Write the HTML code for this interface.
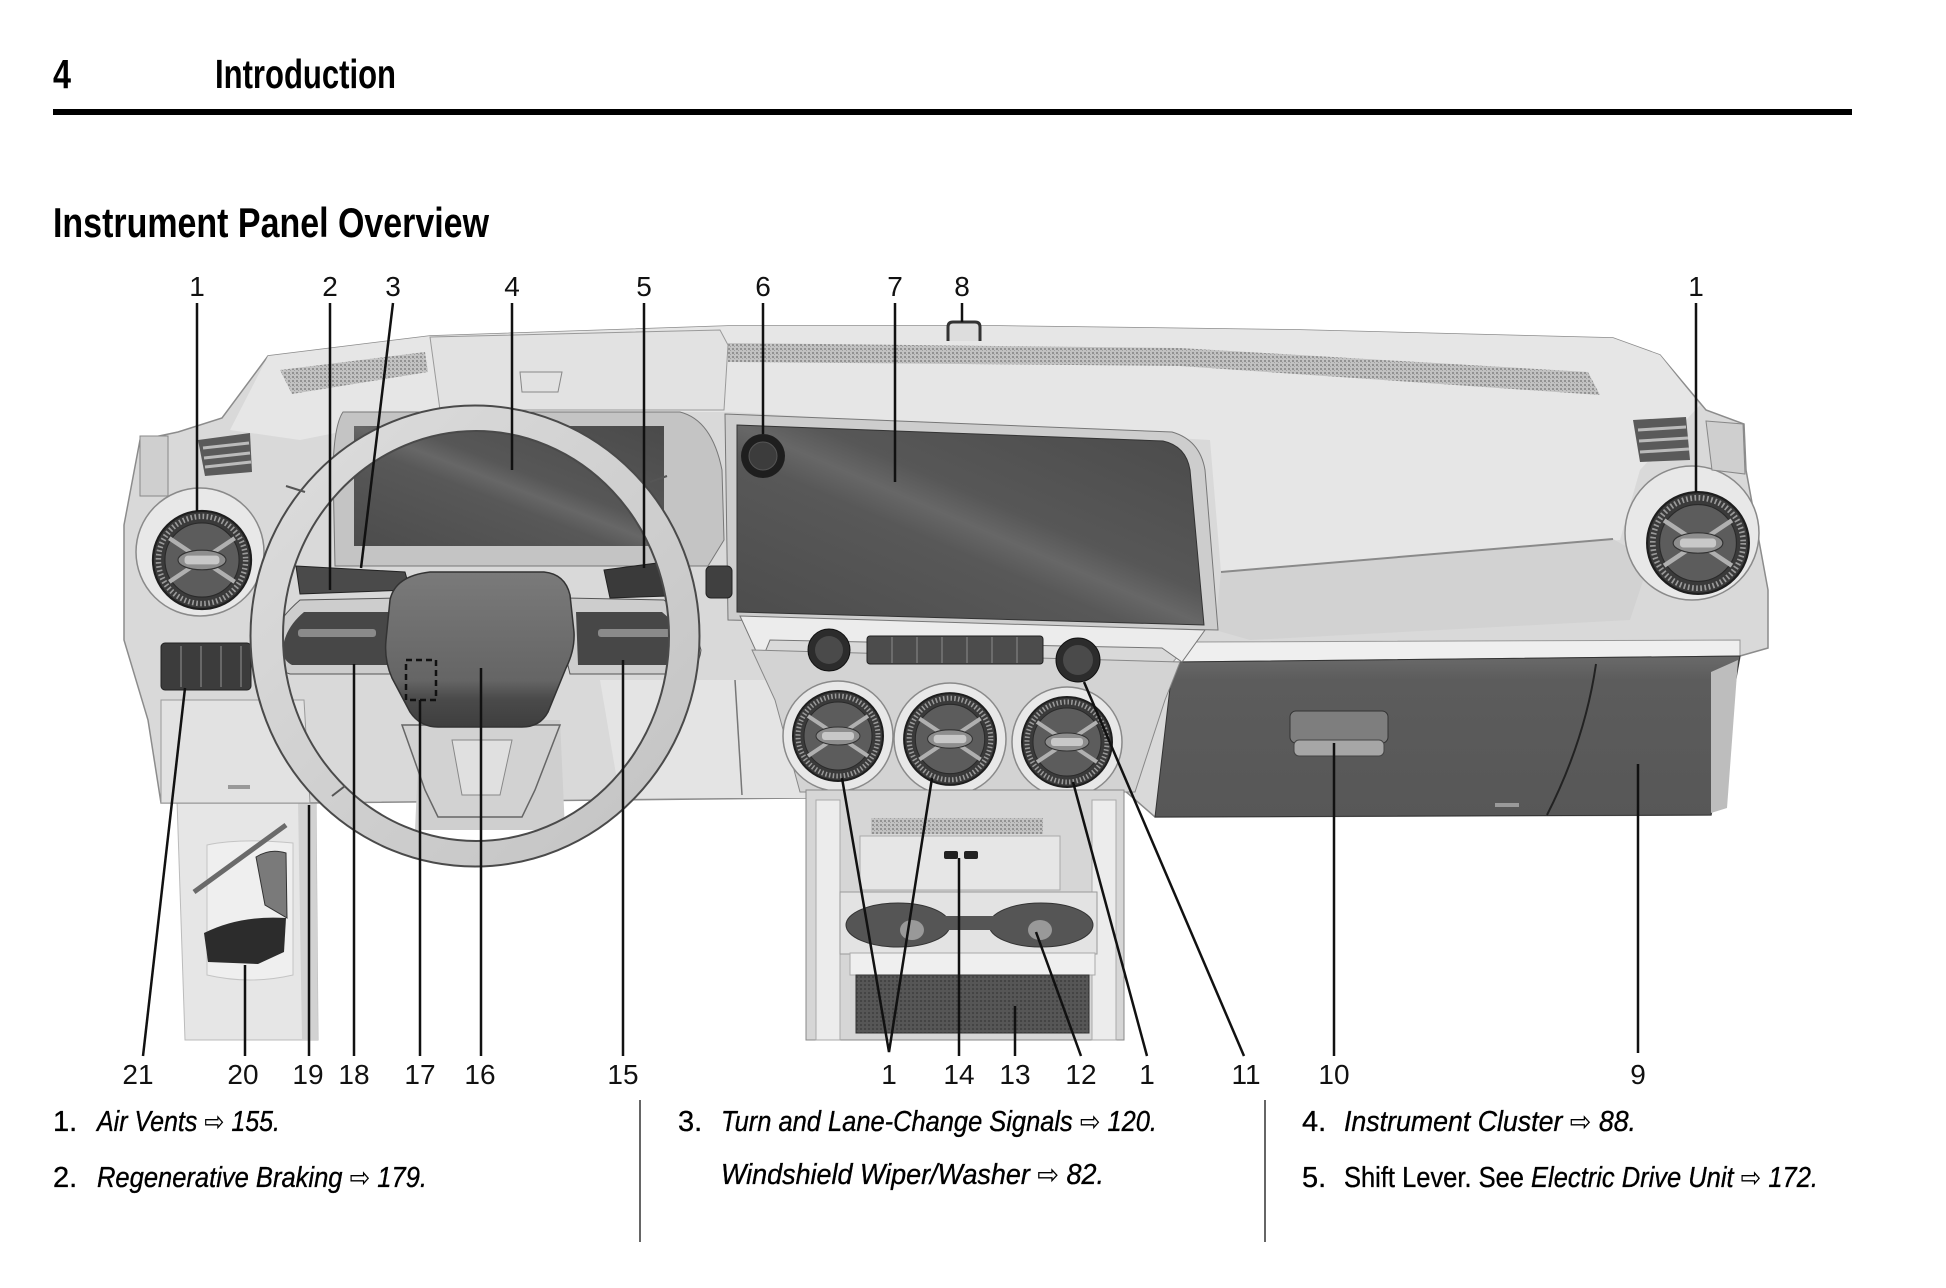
<!DOCTYPE html>
<html><head><meta charset="utf-8"><style>
html,body{margin:0;padding:0;background:#fff;}
svg{display:block;}
.lbl{font-family:"Liberation Sans",Arial,sans-serif;font-size:28px;fill:#111;text-anchor:middle;}
.hd{font-family:"Liberation Sans Narrow","Liberation Sans",sans-serif;font-weight:bold;fill:#000;}
.tx{font-family:"Liberation Sans Narrow","Liberation Sans",sans-serif;font-size:29px;fill:#000;stroke:#000;stroke-width:0.35;}
.it{font-style:italic;}
.ar{font-family:"DejaVu Sans",sans-serif;font-style:normal;font-size:28px;stroke-width:0;}
.ld{stroke:#111;stroke-width:2.5;fill:none;}
</style></head><body>
<svg width="1946" height="1288" viewBox="0 0 1946 1288" xmlns="http://www.w3.org/2000/svg">
<defs>
<pattern id="tex" width="4" height="4" patternUnits="userSpaceOnUse"><rect width="4" height="4" fill="#c2c2c2"/><rect width="2" height="2" fill="#929292"/><rect x="2" y="2" width="1" height="1" fill="#a0a0a0"/></pattern>
<pattern id="tex2" width="4" height="4" patternUnits="userSpaceOnUse"><rect width="4" height="4" fill="#565656"/><rect width="2" height="2" fill="#444"/></pattern>
<linearGradient id="scr" x1="0" y1="1" x2="1" y2="0"><stop offset="0" stop-color="#4c4c4c"/><stop offset="0.42" stop-color="#585858"/><stop offset="0.5" stop-color="#676767"/><stop offset="0.58" stop-color="#575757"/><stop offset="1" stop-color="#4a4a4a"/></linearGradient>
<linearGradient id="hub" x1="0" y1="0" x2="0" y2="1"><stop offset="0" stop-color="#7a7a7a"/><stop offset="0.7" stop-color="#656565"/><stop offset="0.82" stop-color="#4a4a4a"/><stop offset="1" stop-color="#3e3e3e"/></linearGradient>
<linearGradient id="rim" x1="0" y1="0" x2="1" y2="1"><stop offset="0" stop-color="#dedede"/><stop offset="1" stop-color="#c2c2c2"/></linearGradient>
<linearGradient id="gb" x1="0" y1="0" x2="0" y2="1"><stop offset="0" stop-color="#6a6a6a"/><stop offset="0.15" stop-color="#5c5c5c"/><stop offset="1" stop-color="#575757"/></linearGradient>
<g id="vent">
<circle r="45" fill="#3a3a3a" stroke="#1e1e1e" stroke-width="2"/>
<circle r="40" fill="none" stroke="#9a9a9a" stroke-width="5" stroke-dasharray="1.5 2.2"/>
<circle r="34" fill="#5c5c5c" stroke="#2a2a2a"/>
<path d="M-30,-20 L30,20 M-30,20 L30,-20" stroke="#b0b0b0" stroke-width="4"/>
<ellipse rx="22" ry="9" fill="#8e8e8e" stroke="#333"/>
<rect x="-16" y="-4" width="32" height="8" rx="3" fill="#c8c8c8"/>
</g>
</defs>
<rect width="1946" height="1288" fill="#fff"/>

<!-- header -->
<text class="hd" x="53" y="88" font-size="41" textLength="18" lengthAdjust="spacingAndGlyphs">4</text>
<text class="hd" x="215" y="88" font-size="41" textLength="181" lengthAdjust="spacingAndGlyphs">Introduction</text>
<rect x="53" y="109" width="1799" height="6" fill="#000"/>
<text class="hd" x="53" y="237" font-size="42" textLength="436" lengthAdjust="spacingAndGlyphs">Instrument Panel Overview</text>

<!-- leg panel & pedal -->
<path d="M177,800 L316,800 L318,1040 L185,1040 Z" fill="#e6e6e6" stroke="#bbb"/>
<path d="M298,800 L316,800 L318,1040 L302,1040 Z" fill="#d2d2d2"/>
<path d="M207,845 Q240,838 293,843 L293,975 Q250,985 207,975 Z" fill="#efefef" stroke="#c4c4c4"/>
<path d="M194,892 L286,825" stroke="#6a6a6a" stroke-width="5"/>
<path d="M256,857 Q270,848 286,853 L287,918 L265,905 Z" fill="#7a7a7a" stroke="#333"/>
<path d="M204,933 Q240,915 286,918 L284,952 L258,964 L208,962 Z" fill="#2c2c2c"/>

<!-- dash body -->
<path d="M124,525 L140,440 L178,432 L222,418 L268,356 L430,336 L728,326 L1000,326 L1300,330 L1613,338 L1660,355 L1706,410 L1744,424 L1746,470 L1768,590 L1768,648 L1740,656 L1711,815 L1155,817 L1124,790 L806,790 L805,798 L310,803 L161,803 L148,720 L124,640 Z" fill="#d9d9d9" stroke="#8c8c8c" stroke-width="1.5"/>
<path d="M268,356 L430,336 L728,326 L1000,326 L1300,330 L1613,338 L1660,355 L1700,405 L1640,470 L1620,540 L1221,572 L1210,440 L730,412 L440,412 L300,440 L230,430 Z" fill="#e6e6e6"/>
<path d="M728,343 L1180,348 L1588,372 L1600,395 L1180,366 L728,362 Z" fill="url(#tex)"/>
<path d="M280,370 L425,352 L428,372 L292,394 Z" fill="url(#tex)"/>
<path d="M430,337 L720,330 L728,345 L724,410 L440,410 Z" fill="#e2e2e2" stroke="#9a9a9a"/>
<path d="M520,372 L562,372 L558,392 L522,392 Z" fill="none" stroke="#888"/>
<!-- right dash shelf -->
<path d="M1221,572 L1613,539 L1650,560 L1630,620 L1250,640 L1215,630 Z" fill="#d2d2d2"/>
<path d="M1221,572 L1613,539" stroke="#8a8a8a" stroke-width="2" fill="none"/>
<path d="M1190,642 L1740,640 L1740,656 L1173,662 Z" fill="#efefef" stroke="#999"/>
<!-- lower left knee panel -->
<path d="M161,700 L304,700 L310,803 L161,803 Z" fill="#e2e2e2" stroke="#9a9a9a"/>
<rect x="228" y="785" width="22" height="4" fill="#999"/>
<!-- lower dash right of wheel -->
<path d="M600,680 L806,680 L806,798 L620,798 Z" fill="#e4e4e4"/>
<path d="M735,680 L742,795" stroke="#777" stroke-width="1.5"/>
<!-- glovebox -->
<path d="M1173,662 L1740,656 L1711,815 L1155,817 Z" fill="url(#gb)" stroke="#333"/>
<path d="M1596,664 Q1585,740 1547,815" stroke="#222" stroke-width="2" fill="none"/>
<path d="M1711,672 L1738,660 L1727,808 L1711,813 Z" fill="#bdbdbd"/>
<rect x="1290" y="711" width="98" height="32" rx="6" fill="#7e7e7e" stroke="#333"/>
<rect x="1294" y="740" width="90" height="16" rx="5" fill="#a6a6a6" stroke="#444"/>
<rect x="1495" y="803" width="24" height="4" fill="#9a9a9a"/>

<!-- side vents -->
<circle cx="200" cy="552" r="64" fill="#e8e8e8" stroke="#8a8a8a" stroke-width="1.5"/>
<use href="#vent" transform="translate(202,560) scale(1.09)"/>
<path d="M198,440 L250,433 L252,472 L205,476 Z" fill="#5a5a5a"/>
<path d="M203,448 L249,443 M204,458 L250,453 M205,467 L251,462" stroke="#bbb" stroke-width="3"/>
<rect x="140" y="436" width="28" height="60" fill="#cfcfcf" stroke="#888"/>
<circle cx="1692" cy="533" r="67" fill="#e8e8e8" stroke="#8a8a8a" stroke-width="1.5"/>
<use href="#vent" transform="translate(1698,543) scale(1.13)"/>
<path d="M1633,420 L1686,417 L1690,460 L1640,462 Z" fill="#5a5a5a"/>
<path d="M1638,430 L1686,427 M1639,441 L1688,438 M1640,452 L1689,449" stroke="#bbb" stroke-width="3"/>
<path d="M1706,421 L1743,424 L1745,474 L1712,470 Z" fill="#cfcfcf" stroke="#888"/>

<!-- cluster -->
<path d="M343,412 L680,412 Q712,420 722,470 L724,540 L708,566 L335,566 L333,470 Q334,425 343,412 Z" fill="#c4c4c4" stroke="#777"/>
<rect x="354" y="426" width="310" height="120" fill="url(#scr)"/>

<!-- center screen -->
<path d="M725,414 L1172,432 Q1200,440 1205,470 L1218,630 L728,620 Z" fill="#cdcdcd" stroke="#777"/>
<path d="M737,425 L1163,441 Q1186,446 1190,470 L1204,625 L737,612 Z" fill="url(#scr)" stroke="#333"/>
<circle cx="763" cy="456" r="22" fill="#1e1e1e"/>
<circle cx="763" cy="456" r="14" fill="#3c3c3c" stroke="#555"/>
<path d="M948,341 L948,327 Q948,322 953,322 L975,322 Q980,322 980,327 L980,341" stroke="#333" stroke-width="3" fill="#ddd"/>
<!-- under screen trim -->
<path d="M740,616 L1205,630 L1182,662 L1162,648 L770,640 L761,662 Z" fill="#ececec" stroke="#777"/>

<!-- center stack -->
<path d="M752,650 L1180,662 L1165,700 L1135,792 L800,792 L775,700 Z" fill="#d3d3d3" stroke="#888"/>
<rect x="867" y="636" width="176" height="28" rx="3" fill="#4c4c4c" stroke="#222"/>
<path d="M892,637 v26 M917,637 v26 M942,637 v26 M967,637 v26 M992,637 v26 M1017,637 v26" stroke="#777" stroke-width="1.5"/>
<circle cx="829" cy="650" r="21" fill="#2c2c2c" stroke="#111"/>
<circle cx="829" cy="650" r="14" fill="#4a4a4a"/>
<circle cx="1078" cy="660" r="22" fill="#2c2c2c" stroke="#111"/>
<circle cx="1078" cy="660" r="15" fill="#4a4a4a"/>
<circle cx="838" cy="736" r="55" fill="#e8e8e8" stroke="#8a8a8a" stroke-width="1.5"/>
<circle cx="950" cy="739" r="56" fill="#e8e8e8" stroke="#8a8a8a" stroke-width="1.5"/>
<circle cx="1067" cy="742" r="55" fill="#e8e8e8" stroke="#8a8a8a" stroke-width="1.5"/>
<use href="#vent" transform="translate(838,736)"/>
<use href="#vent" transform="translate(950,739) scale(1.02)"/>
<use href="#vent" transform="translate(1067,742)"/>

<!-- console -->
<path d="M806,790 L1124,790 L1124,1040 L806,1040 Z" fill="#d6d6d6" stroke="#888"/>
<rect x="816" y="800" width="24" height="240" fill="#ececec" stroke="#aaa"/>
<rect x="1092" y="800" width="24" height="240" fill="#ececec" stroke="#aaa"/>
<rect x="871" y="818" width="172" height="16" fill="url(#tex)"/>
<rect x="860" y="836" width="200" height="54" fill="#e6e6e6" stroke="#aaa"/>
<rect x="944" y="851" width="14" height="8" rx="2" fill="#222"/>
<rect x="964" y="851" width="14" height="8" rx="2" fill="#222"/>
<rect x="840" y="892" width="257" height="62" fill="#e3e3e3" stroke="#999"/>
<ellipse cx="898" cy="925" rx="52" ry="22" fill="#555" stroke="#333"/>
<ellipse cx="1041" cy="925" rx="52" ry="22" fill="#555" stroke="#333"/>
<rect x="930" y="916" width="80" height="14" fill="#555"/>
<ellipse cx="912" cy="930" rx="12" ry="10" fill="#999"/>
<ellipse cx="1040" cy="930" rx="12" ry="10" fill="#999"/>
<rect x="850" y="953" width="245" height="22" fill="#efefef" stroke="#aaa"/>
<rect x="856" y="975" width="233" height="58" fill="url(#tex2)" stroke="#333"/>

<!-- left switch -->
<rect x="161" y="643" width="90" height="47" rx="4" fill="#3c3c3c" stroke="#222"/>
<path d="M181,646 v41 M201,646 v41 M221,646 v41 M241,646 v41" stroke="#777" stroke-width="1.5"/>

<!-- stalks -->
<path d="M296,566 L405,572 L410,590 L300,594 Z" fill="#4a4a4a" stroke="#222"/>
<path d="M604,570 L665,562 L668,596 L610,598 Z" fill="#3a3a3a" stroke="#222"/>
<rect x="706" y="566" width="26" height="32" rx="5" fill="#404040" stroke="#222"/>

<!-- column & lower spoke -->
<path d="M420,720 L560,720 L565,830 L415,830 Z" fill="#cfcfcf"/>
<path d="M402,725 L560,725 L535,790 L522,817 L438,817 L425,790 Z" fill="#d2d2d2" stroke="#666" stroke-width="1.5"/>
<path d="M452,740 L512,740 L500,795 L462,795 Z" fill="#e0e0e0" stroke="#888"/>

<!-- spokes -->
<path d="M300,600 L398,598 L408,640 L400,674 L290,674 Q270,668 269,650 Q272,624 300,600 Z" fill="#cdcdcd" stroke="#555"/>
<path d="M304,612 L390,612 L394,665 L292,665 Q282,660 283,648 Q285,628 304,612 Z" fill="#474747"/>
<rect x="298" y="629" width="78" height="8" rx="3" fill="#8a8a8a"/>
<path d="M566,598 L664,600 Q694,624 701,650 Q699,670 680,674 L570,674 L562,640 Z" fill="#cdcdcd" stroke="#555"/>
<path d="M576,612 L662,612 Q682,628 688,648 Q688,660 678,665 L578,665 Z" fill="#474747"/>
<rect x="598" y="629" width="78" height="8" rx="3" fill="#8a8a8a"/>

<!-- hub -->
<path d="M430,572 L544,572 Q565,574 570,595 L574,632 Q575,650 566,668 L548,712 Q540,727 522,727 L438,727 Q420,727 410,712 L392,678 Q384,660 386,640 L390,600 Q395,576 430,572 Z" fill="url(#hub)" stroke="#333" stroke-width="1.5"/>
<rect x="406" y="660" width="30" height="40" fill="none" stroke="#111" stroke-width="2.5" stroke-dasharray="6 4"/>

<!-- wheel rim -->
<path fill-rule="evenodd" d="M250.5,636 a224.5,230.5 0 1,0 449,0 a224.5,230.5 0 1,0 -449,0 Z M283,636 a193,205 0 1,0 386,0 a193,205 0 1,0 -386,0 Z" fill="url(#rim)" stroke="#4a4a4a" stroke-width="2"/>
<path d="M286,486 L305,492 M650,482 L667,476 M332,796 L345,786" stroke="#555" stroke-width="2"/>

<!-- leaders -->
<g class="ld">
<path d="M197,303 V511"/><path d="M330,303 V590"/><path d="M393,303 L361,568"/><path d="M512,303 V470"/>
<path d="M644,303 V568"/><path d="M763,303 V434"/><path d="M895,303 V482"/><path d="M962,303 V322"/>
<path d="M1696,303 V492"/>
<path d="M143,1056 L185,688"/><path d="M245,1056 V965"/><path d="M309,1056 V805"/><path d="M354,1056 V664"/>
<path d="M420,1056 V700"/><path d="M481,1056 V668"/><path d="M623,1056 V660"/>
<path d="M842,778 L889,1052 L932,778"/><path d="M959,1056 V858"/><path d="M1015,1056 V1006"/>
<path d="M1081,1056 L1036,932"/><path d="M1147,1056 L1073,782"/><path d="M1244,1056 L1084,682"/>
<path d="M1334,1056 V743"/><path d="M1638,1053 V764"/>
</g>

<!-- top labels -->
<text class="lbl" x="197" y="296">1</text><text class="lbl" x="330" y="296">2</text><text class="lbl" x="393" y="296">3</text>
<text class="lbl" x="512" y="296">4</text><text class="lbl" x="644" y="296">5</text><text class="lbl" x="763" y="296">6</text>
<text class="lbl" x="895" y="296">7</text><text class="lbl" x="962" y="296">8</text><text class="lbl" x="1696" y="296">1</text>
<!-- bottom labels -->
<text class="lbl" x="138" y="1084">21</text><text class="lbl" x="243" y="1084">20</text><text class="lbl" x="308" y="1084">19</text>
<text class="lbl" x="354" y="1084">18</text><text class="lbl" x="420" y="1084">17</text><text class="lbl" x="480" y="1084">16</text>
<text class="lbl" x="623" y="1084">15</text><text class="lbl" x="889" y="1084">1</text><text class="lbl" x="959" y="1084">14</text>
<text class="lbl" x="1015" y="1084">13</text><text class="lbl" x="1081" y="1084">12</text><text class="lbl" x="1147" y="1084">1</text>
<text class="lbl" x="1246" y="1084">11</text><text class="lbl" x="1334" y="1084">10</text><text class="lbl" x="1638" y="1084">9</text>

<!-- dividers -->
<path d="M640,1100 V1242 M1265,1100 V1242" stroke="#333" stroke-width="1.5"/>

<!-- bottom text -->
<text class="tx" x="53" y="1131">1.</text>
<text class="tx it" x="97" y="1131" textLength="183" lengthAdjust="spacingAndGlyphs">Air Vents <tspan class="ar">⇨</tspan> 155.</text>
<text class="tx" x="53" y="1187">2.</text>
<text class="tx it" x="97" y="1187" textLength="330" lengthAdjust="spacingAndGlyphs">Regenerative Braking <tspan class="ar">⇨</tspan> 179.</text>
<text class="tx" x="678" y="1131">3.</text>
<text class="tx it" x="721" y="1131" textLength="436" lengthAdjust="spacingAndGlyphs">Turn and Lane-Change Signals <tspan class="ar">⇨</tspan> 120.</text>
<text class="tx it" x="721" y="1184" textLength="383" lengthAdjust="spacingAndGlyphs">Windshield Wiper/Washer <tspan class="ar">⇨</tspan> 82.</text>
<text class="tx" x="1302" y="1131">4.</text>
<text class="tx it" x="1344" y="1131" textLength="292" lengthAdjust="spacingAndGlyphs">Instrument Cluster <tspan class="ar">⇨</tspan> 88.</text>
<text class="tx" x="1302" y="1187">5.</text>
<text class="tx" x="1344" y="1187" textLength="474" lengthAdjust="spacingAndGlyphs">Shift Lever. See <tspan font-style="italic">Electric Drive Unit </tspan><tspan class="ar">⇨</tspan><tspan font-style="italic"> 172.</tspan></text>
</svg>
</body></html>
